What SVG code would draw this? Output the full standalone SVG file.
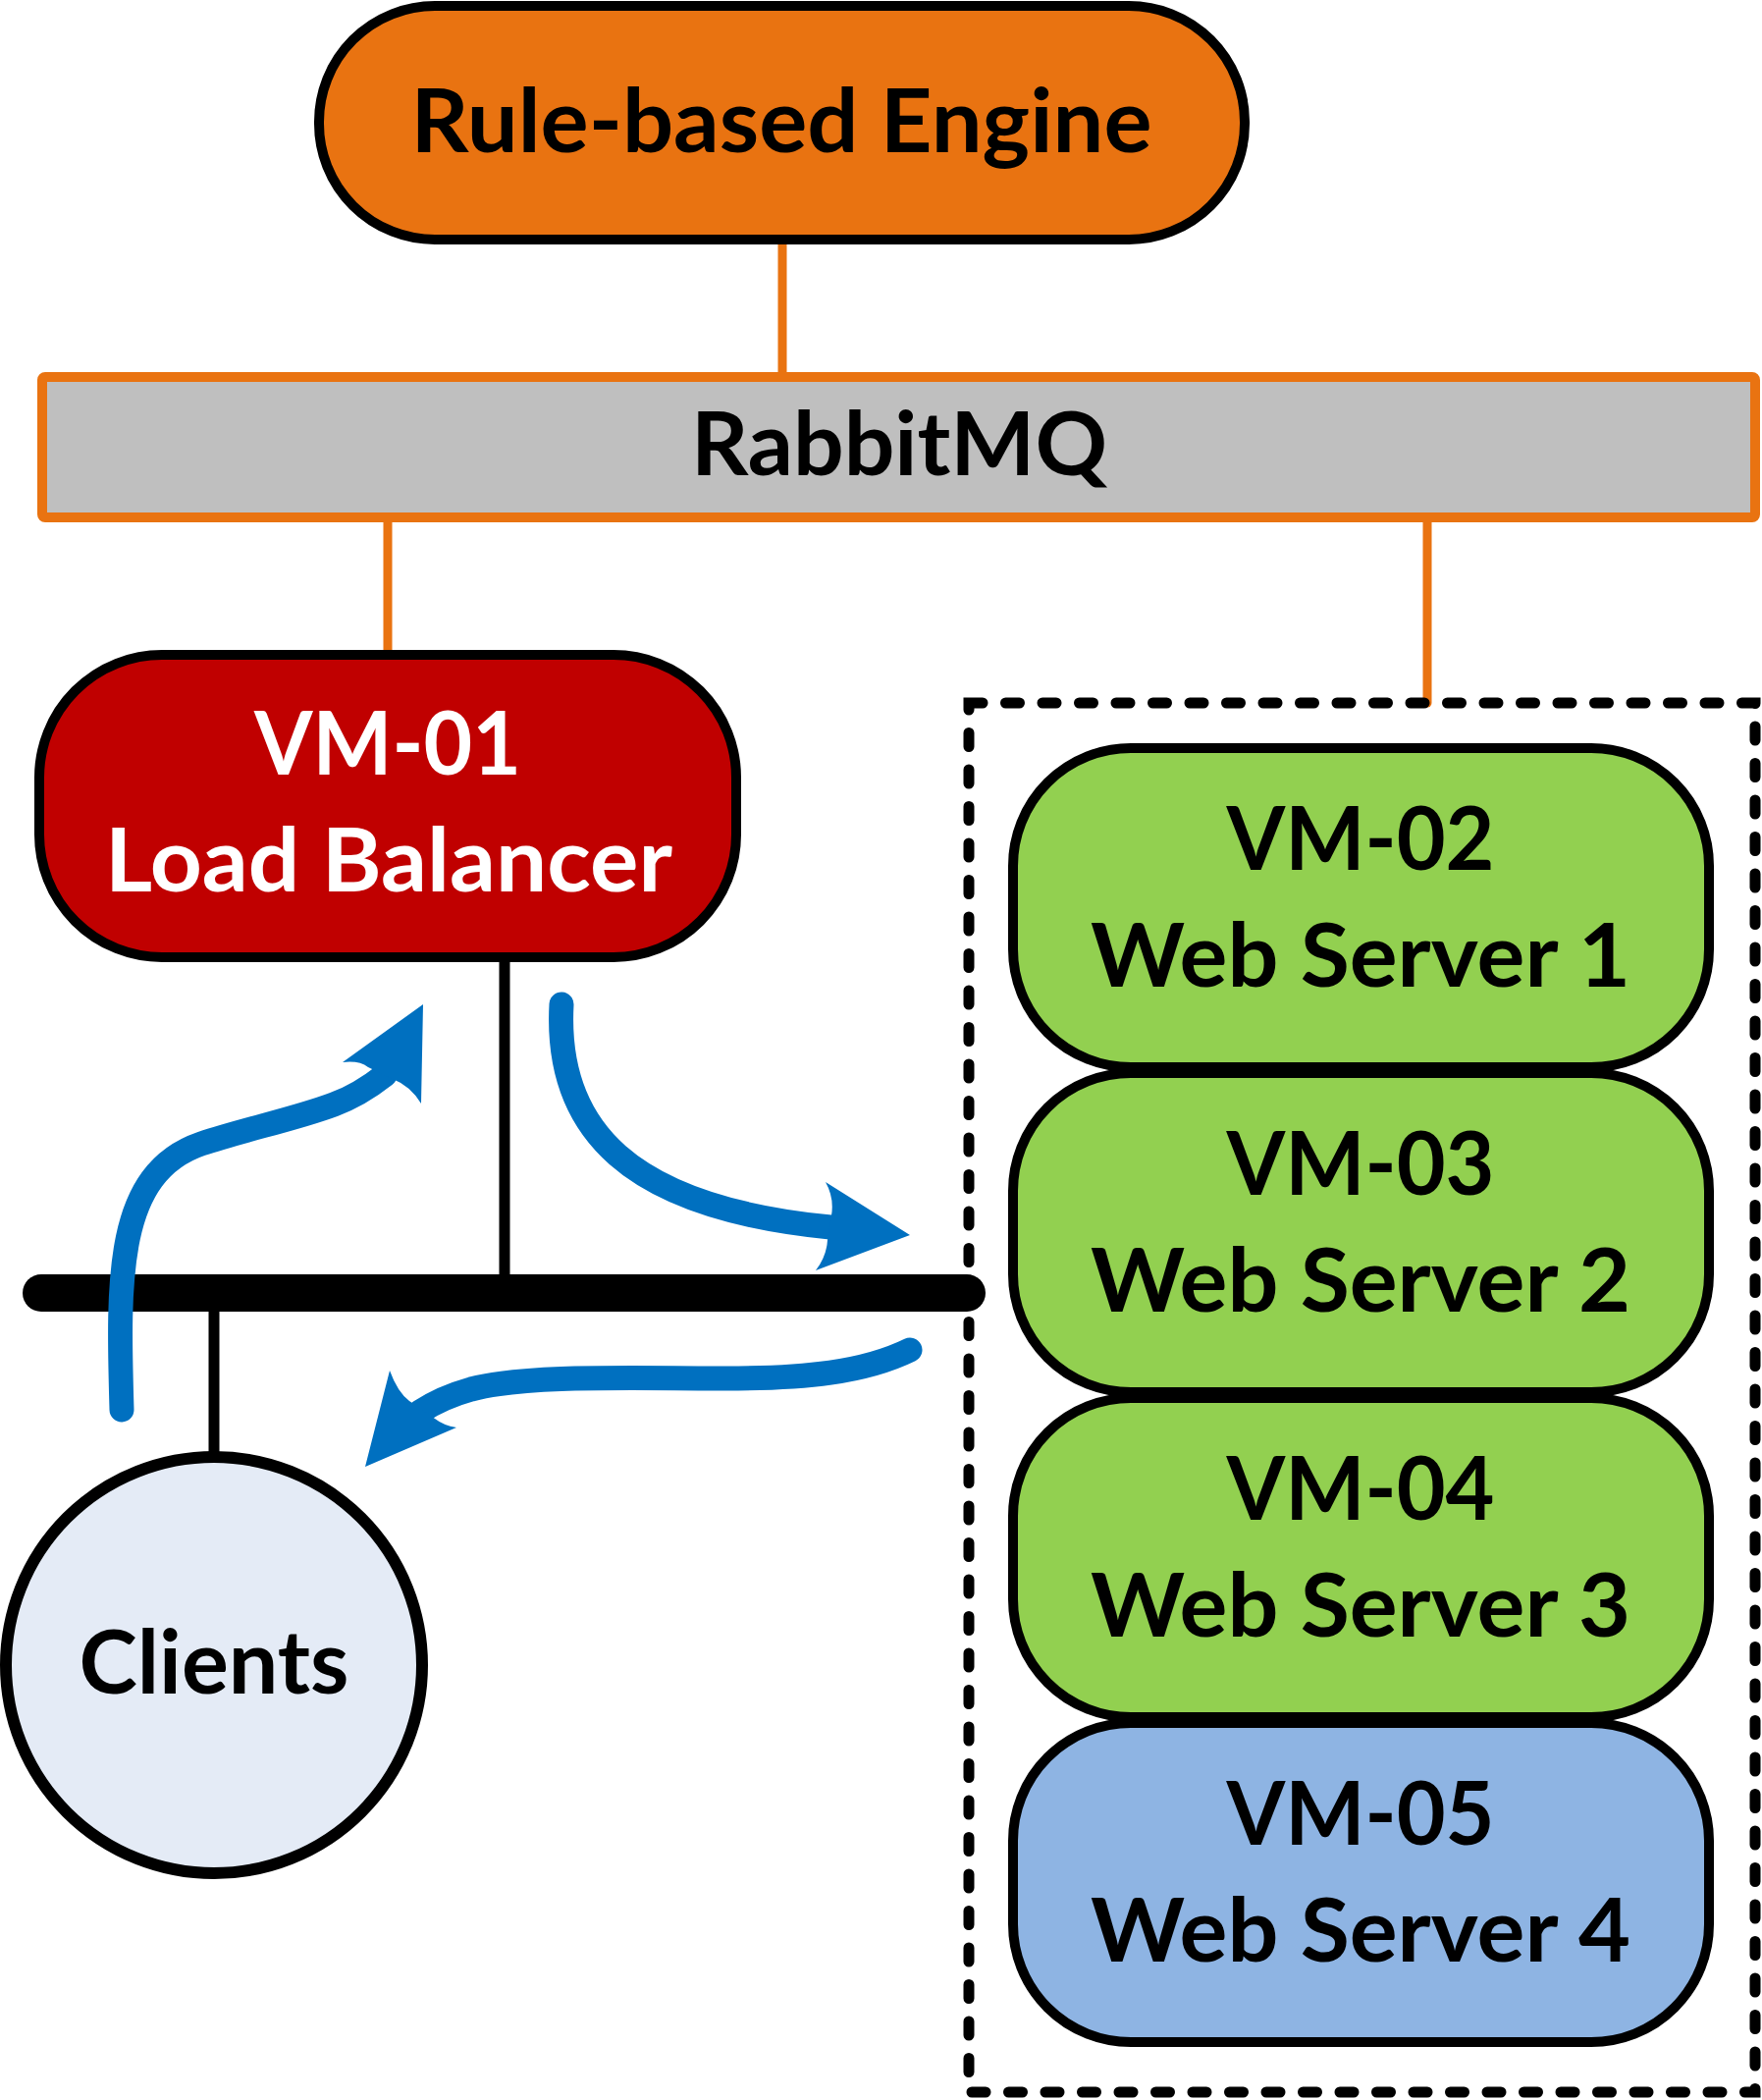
<svg xmlns="http://www.w3.org/2000/svg" width="1795" height="2139" viewBox="0 0 1795 2139">
<style>
.lbl{font-family:Lato,"Open Sans","Liberation Sans",sans-serif;font-weight:bold;font-size:89px;text-anchor:middle}
.dark{fill:#000}
.white{fill:#fff}
.box{stroke:#000;stroke-width:10}
.orange{stroke:#E97311;stroke-width:9;stroke-linecap:round;fill:none}
.wire{stroke:#000;stroke-width:11;fill:none}
.flow{stroke:#0070C0;stroke-width:25;stroke-linecap:round;fill:none}
.head{fill:#0070C0}
</style>
<rect x="0" y="0" width="1795" height="2139" fill="#fff"/>
<g id="connectors">
<line class="orange" x1="797" y1="249" x2="797" y2="384"/>
<line class="orange" x1="395" y1="527" x2="395" y2="667"/>
<line class="orange" x1="1454" y1="527" x2="1454" y2="716"/>
<line class="wire" x1="514" y1="975" x2="514" y2="1317"/>
<line class="wire" x1="218" y1="1317" x2="218" y2="1484"/>
<line x1="42" y1="1317" x2="985" y2="1317" stroke="#000" stroke-width="38" stroke-linecap="round"/>
</g>
<g id="group-webservers">
<rect x="987" y="716" width="801" height="1415" fill="none" stroke="#000" stroke-width="11" stroke-dasharray="14 23.5" stroke-linecap="round"/>
</g>
<g id="rule-engine">
<rect class="box" x="325" y="6" width="943" height="238" rx="118" ry="118" fill="#E97311"/>
<text class="lbl dark" x="796" y="155" textLength="755" lengthAdjust="spacingAndGlyphs">Rule-based Engine</text>
</g>
<g id="rabbitmq">
<rect x="43" y="384" width="1745" height="143" rx="3" fill="#BFBFBF" stroke="#E97311" stroke-width="10"/>
<text class="lbl dark" x="916" y="484" textLength="424" lengthAdjust="spacingAndGlyphs">RabbitMQ</text>
</g>
<g id="vm01">
<rect class="box" x="40" y="667" width="710" height="308" rx="125" ry="125" fill="#C00000"/>
<text class="lbl white" x="395" y="789" textLength="272" lengthAdjust="spacingAndGlyphs">VM-01</text>
<text class="lbl white" x="396" y="908" textLength="578" lengthAdjust="spacingAndGlyphs">Load Balancer</text>
</g>
<g id="vm02">
<rect class="box" x="1032" y="762" width="709" height="325" rx="120" ry="120" fill="#92D050"/>
<text class="lbl dark" x="1386" y="886" textLength="273" lengthAdjust="spacingAndGlyphs">VM-02</text>
<text class="lbl dark" x="1386" y="1005" textLength="550" lengthAdjust="spacingAndGlyphs">Web Server 1</text>
</g>
<g id="vm03">
<rect class="box" x="1032" y="1093" width="709" height="325" rx="120" ry="120" fill="#92D050"/>
<text class="lbl dark" x="1386" y="1217" textLength="273" lengthAdjust="spacingAndGlyphs">VM-03</text>
<text class="lbl dark" x="1386" y="1336" textLength="550" lengthAdjust="spacingAndGlyphs">Web Server 2</text>
</g>
<g id="vm04">
<rect class="box" x="1032" y="1424" width="709" height="325" rx="120" ry="120" fill="#92D050"/>
<text class="lbl dark" x="1386" y="1548" textLength="273" lengthAdjust="spacingAndGlyphs">VM-04</text>
<text class="lbl dark" x="1386" y="1667" textLength="550" lengthAdjust="spacingAndGlyphs">Web Server 3</text>
</g>
<g id="vm05">
<rect class="box" x="1032" y="1755" width="709" height="325" rx="120" ry="120" fill="#8EB4E3"/>
<text class="lbl dark" x="1386" y="1879" textLength="273" lengthAdjust="spacingAndGlyphs">VM-05</text>
<text class="lbl dark" x="1386" y="1998" textLength="550" lengthAdjust="spacingAndGlyphs">Web Server 4</text>
</g>
<g id="clients">
<circle cx="218" cy="1696" r="212" fill="#E4EBF6" stroke="#000" stroke-width="12"/>
<text class="lbl dark" x="218" y="1725" textLength="275" lengthAdjust="spacingAndGlyphs">Clients</text>
</g>
<g id="flows">
<path class="flow" d="M124,1436 C120,1300 118,1195 205,1165 C250,1150 300,1140 340,1125 C362,1117 378,1106 392,1095"/>
<path class="head" d="M431,1023 L349,1082 Q366,1080 375,1087 L400,1099 Q418,1106 429,1124 Z"/>
<path class="flow" d="M572,1023 C565,1150 640,1230 846,1250"/>
<path class="head" d="M927,1258 L841,1204 Q850,1220 847,1238 L843,1263 Q842,1280 831,1294 Z"/>
<path class="flow" d="M927,1375 C880,1398 820,1404 740,1404 C640,1404 540,1400 480,1415 C455,1422 440,1430 428,1438"/>
<path class="head" d="M372,1494 L397,1396 Q405,1418 417,1427 L443,1445 Q452,1452 465,1454 Z"/>
</g>
</svg>
